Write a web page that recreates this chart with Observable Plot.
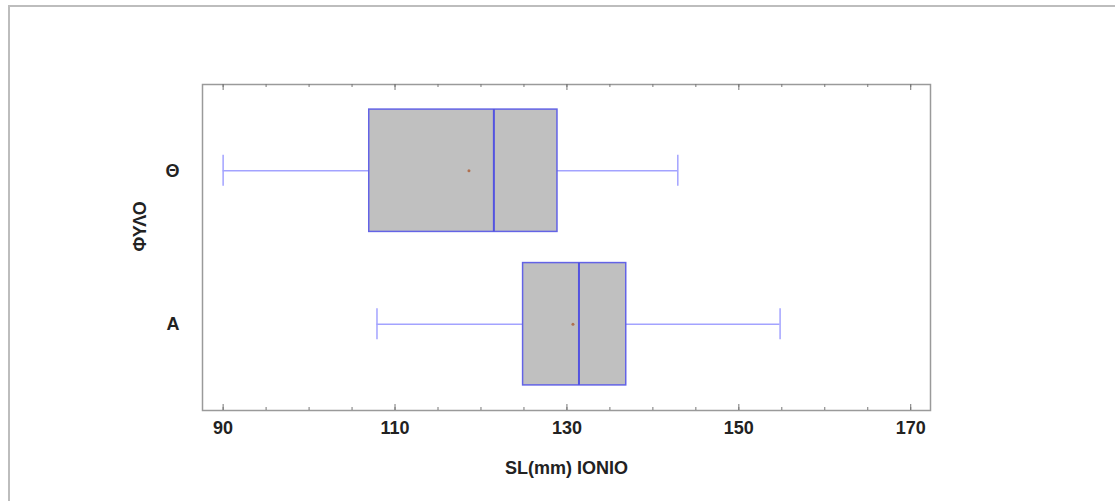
<!DOCTYPE html>
<html>
<head>
<meta charset="utf-8">
<script src="https://cdn.jsdelivr.net/npm/d3@7"></script>
<script src="https://cdn.jsdelivr.net/npm/@observablehq/plot@0.6"></script>
<style>
  html, body { margin: 0; padding: 0; background: #fff; }
  #wrap { position: relative; width: 1115px; height: 501px; overflow: hidden; }
  #border { position: absolute; left: 8px; top: 5px; width: 1200px; height: 600px;
            border-top: 2px solid #bdbdbd; border-left: 2px solid #bdbdbd; box-sizing: border-box; }
  #chart { position: absolute; left: 0; top: 0; }
</style>
</head>
<body>
<div id="wrap"><div id="border"></div><div id="chart"></div></div>
<script>
// Data
const categories = ["Θ", "A"];
const lowWhisker = [90.0, 107.9];
const q1 = [107.0, 124.9];
const medians = [121.5, 131.4];
const q3 = [128.9, 136.9];
const highWhisker = [142.9, 154.8];
const means = [118.6, 130.7];
const xTickLabels = [90, 110, 130, 150, 170];
const xMinorTicks = d3.range(90, 171, 5);
const xTitle = "SL(mm) IONIO";
const yTitle = "ΦΥΛΟ";

const rows = categories.map((c, i) => ({
  cat: c, lo: lowWhisker[i], q1: q1[i], med: medians[i], q3: q3[i], hi: highWhisker[i], mean: means[i]
}));

const boxStroke = "#6363e6";
const whiskerStroke = "#a3a3ff";
const capInset = 45.7;

const chart = Plot.plot({
  width: 1115,
  height: 501,
  marginLeft: 202,
  marginRight: 185,
  marginTop: 84,
  marginBottom: 91,
  style: { fontFamily: "'Liberation Sans', Arial, sans-serif", fontSize: "18px", fontWeight: "bold", color: "#222", background: "transparent" },
  x: { domain: [87.6, 172.3], label: null },
  y: { type: "band", domain: categories, paddingInner: 0.203, paddingOuter: 0.1635, round: false, label: null },
  marks: [
    Plot.frame({ stroke: "#9a9a9a", strokeWidth: 1.5 }),
    // minor & major ticks (inward) on bottom and top
    Plot.tickX(xMinorTicks, { x: d => d, insetTop: 323, stroke: "#777", strokeWidth: 1 }),
    Plot.tickX(xMinorTicks, { x: d => d, insetBottom: 323, stroke: "#777", strokeWidth: 1 }),
    Plot.tickX(xTickLabels, { x: d => d, insetTop: 320, stroke: "#777", strokeWidth: 1 }),
    Plot.tickX(xTickLabels, { x: d => d, insetBottom: 320, stroke: "#777", strokeWidth: 1 }),
    Plot.axisX({ anchor: "bottom", ticks: xTickLabels, tickSize: 0, tickPadding: 11, label: null, fill: "#222" }),
    Plot.axisY({ anchor: "left", tickSize: 0, tickPadding: 23, label: null, fill: "#222" }),
    // whiskers
    Plot.ruleY(rows, { y: "cat", x1: "lo", x2: "q1", stroke: whiskerStroke, strokeWidth: 1.5 }),
    Plot.ruleY(rows, { y: "cat", x1: "q3", x2: "hi", stroke: whiskerStroke, strokeWidth: 1.5 }),
    Plot.tickX(rows, { y: "cat", x: "lo", insetTop: capInset, insetBottom: capInset, stroke: whiskerStroke, strokeWidth: 1.5 }),
    Plot.tickX(rows, { y: "cat", x: "hi", insetTop: capInset, insetBottom: capInset, stroke: whiskerStroke, strokeWidth: 1.5 }),
    // boxes
    Plot.barX(rows, { y: "cat", x1: "q1", x2: "q3", fill: "#c0c0c0", stroke: boxStroke, strokeWidth: 1.5 }),
    Plot.tickX(rows, { y: "cat", x: "med", stroke: "#5353e0", strokeWidth: 2 }),
    Plot.dot(rows, { y: "cat", x: "mean", r: 1.5, fill: "#b0704f", stroke: null }),
    // titles
    Plot.text([xTitle], { frameAnchor: "bottom", dy: 58, lineAnchor: "middle", text: d => d, fontSize: 18, fontWeight: "bold", fill: "#222" }),
    Plot.text([yTitle], { frameAnchor: "left", dx: -62, dy: 4, rotate: -90, lineAnchor: "middle", text: d => d, fontSize: 18, fontWeight: "bold", fill: "#222" })
  ]
});
document.getElementById("chart").appendChild(chart);
</script>
</body>
</html>
